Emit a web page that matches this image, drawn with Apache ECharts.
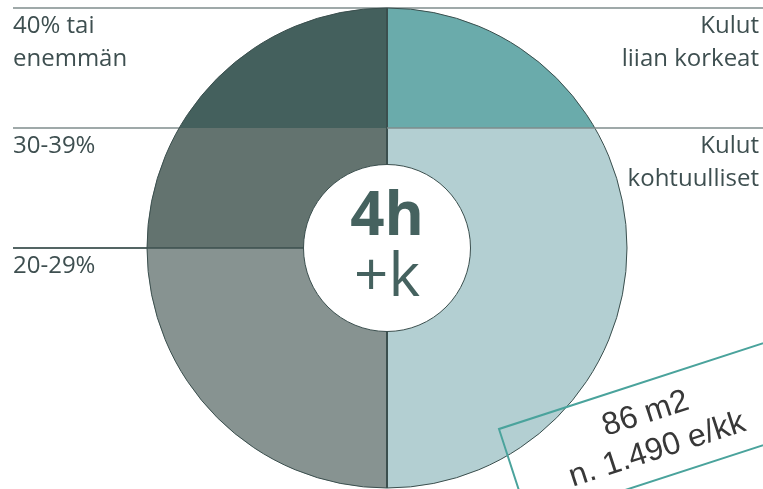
<!DOCTYPE html>
<html>
<head>
<meta charset="utf-8">
<script src="https://cdn.jsdelivr.net/npm/echarts@6/dist/echarts.min.js"></script>
<style>
  html, body { margin: 0; padding: 0; background: #ffffff; }
  #chart { width: 763px; height: 489px; }
</style>
</head>
<body>
<div id="chart"></div>
<script>
// Share of income spent on housing (left half) and cost verdict (right half)
const bandLabels = ['40% tai\nenemmän', '30-39%', '20-29%'];
const bandEdges = [1, 0.5, 0, -1];          // band limits, in circle-radius units
const costLabels = ['Kulut\nliian korkeat', 'Kulut\nkohtuulliset'];
const costEdges = [1, 0.5, -1];
const centerTitle = '4h';
const centerSub = '+k';
const infoLines = ['86 m2', 'n. 1.490 e/kk'];

// styling
const bandColors = ['#44605d', '#63736f', '#879391'];
const costColors = ['#6aabab', '#b3cfd2'];
const inkDark = '#3b4f4e';
const guideGray = '#7f8c8c';
const labelColor = '#3e4f50';
const labelFont = '24px "Open Sans"';
const infoFont = '32px "Liberation Sans"';
const PX = 240;                 // pixels per radius unit
const CX = 387, CY = 248;       // circle centre on the canvas
const W = 763, H = 489;
const innerR = 83.5 / PX;

// segment items: [side, yTop, yBottom, colourIndex, group]
const segments = [];
for (let i = 0; i < bandLabels.length; i++) {
  segments.push([-1, bandEdges[i], bandEdges[i + 1], i, 0]);
}
for (let i = 0; i < costLabels.length; i++) {
  segments.push([1, costEdges[i], costEdges[i + 1], i, 1]);
}

function segmentPoints(api, side, y0, y1) {
  const pts = [api.coord([0, y0])];
  const a0 = Math.asin(y0), a1 = Math.asin(y1);
  const n = 80;
  for (let k = 0; k <= n; k++) {
    const a = a0 + (a1 - a0) * k / n;
    pts.push(api.coord([side * Math.cos(a), Math.sin(a)]));
  }
  pts.push(api.coord([0, y1]));
  return pts;
}

const xMin = -CX / PX, xMax = (W - CX) / PX;
const yMax = CY / PX, yMin = -(H - CY) / PX;
const lineStartX = (13 - CX) / PX;

const chart = echarts.init(document.getElementById('chart'), null, { renderer: 'canvas' });

chart.setOption({
  animation: false,
  backgroundColor: '#ffffff',
  grid: { left: 0, right: 0, top: 0, bottom: 0 },
  xAxis: { type: 'value', min: xMin, max: xMax, show: false },
  yAxis: { type: 'value', min: yMin, max: yMax, show: false },
  series: [
    // guide lines behind the circle, with the left-hand labels
    {
      type: 'custom',
      z: 1,
      data: bandEdges.slice(0, 3).map(function (y) { return [y]; }),
      renderItem: function (params, api) {
        const y = api.value(0);
        const p0 = api.coord([lineStartX, y]);
        const p1 = api.coord([y === bandEdges[0] ? xMax : 0, y]);
        return {
          type: 'group',
          children: [
            { type: 'line', shape: { x1: p0[0], y1: p0[1], x2: p1[0], y2: p1[1] },
              style: { stroke: guideGray, lineWidth: 1.5 } },
            { type: 'text', x: 13, y: p0[1] + 2,
              style: { text: bandLabels[params.dataIndex], fill: labelColor,
                       font: labelFont, lineHeight: 33,
                       align: 'left', verticalAlign: 'top' } }
          ]
        };
      }
    },
    // circle segments
    {
      type: 'custom',
      z: 2,
      data: segments,
      renderItem: function (params, api) {
        const side = api.value(0);
        const pts = segmentPoints(api, side, api.value(1), api.value(2));
        const col = api.value(4) === 0 ? bandColors[api.value(3)] : costColors[api.value(3)];
        return { type: 'polygon', shape: { points: pts }, style: { fill: col } };
      }
    },
    // outline, dividers, right-hand labels and centre disc
    {
      type: 'custom',
      z: 3,
      data: [[0, 0]],
      renderItem: function (params, api) {
        const c = api.coord([0, 0]);
        const r = api.size([1, 0])[0];
        const ri = api.size([innerR, 0])[0];
        const top = api.coord([0, 1]), bot = api.coord([0, -1]);
        const mid = api.coord([0, costEdges[1]]);
        const right = api.coord([xMax, costEdges[1]]);
        const zero = api.coord([lineStartX, bandEdges[2]]);
        const children = [
          { type: 'circle', shape: { cx: c[0], cy: c[1], r: r },
            style: { fill: 'none', stroke: inkDark, lineWidth: 1 } },
          { type: 'line', shape: { x1: top[0], y1: top[1], x2: bot[0], y2: bot[1] },
            style: { stroke: inkDark, lineWidth: 2 } },
          { type: 'line', shape: { x1: mid[0], y1: mid[1], x2: right[0], y2: right[1] },
            style: { stroke: guideGray, lineWidth: 1.5 } },
          { type: 'line', shape: { x1: zero[0], y1: zero[1], x2: c[0], y2: c[1] },
            style: { stroke: inkDark, lineWidth: 1.5 } },
          { type: 'circle', shape: { cx: c[0], cy: c[1], r: ri },
            style: { fill: '#ffffff', stroke: inkDark, lineWidth: 1 } },
          { type: 'text', x: c[0], y: c[1] - 30,
            style: { text: centerTitle, fill: '#45625f', font: 'bold 60px "Open Sans"',
                     align: 'center', verticalAlign: 'middle' } },
          { type: 'text', x: c[0], y: c[1] + 31,
            style: { text: centerSub, fill: '#45625f', font: '60px "Open Sans"',
                     align: 'center', verticalAlign: 'middle' } }
        ];
        for (let i = 0; i < costLabels.length; i++) {
          const p = api.coord([0, costEdges[i]]);
          children.push({ type: 'text', x: 759, y: p[1] + 2,
            style: { text: costLabels[i], fill: labelColor, font: labelFont,
                     lineHeight: 33, align: 'right', verticalAlign: 'top' } });
        }
        return { type: 'group', children: children };
      }
    }
  ],
  graphic: [
    {
      type: 'group',
      x: 499, y: 429,
      rotation: 18 * Math.PI / 180,
      children: [
        { type: 'rect', z: 100, shape: { x: 0, y: 0, width: 340, height: 97 },
          style: { fill: 'none', stroke: '#4aa39c', lineWidth: 2 } },
        { type: 'text', z: 100, x: 144, y: 31,
          style: { text: infoLines[0], fill: '#383838', font: infoFont,
                   align: 'center', verticalAlign: 'middle' } },
        { type: 'text', z: 100, x: 144, y: 69,
          style: { text: infoLines[1], fill: '#383838', font: infoFont,
                   align: 'center', verticalAlign: 'middle' } }
      ]
    }
  ]
});
</script>
</body>
</html>
